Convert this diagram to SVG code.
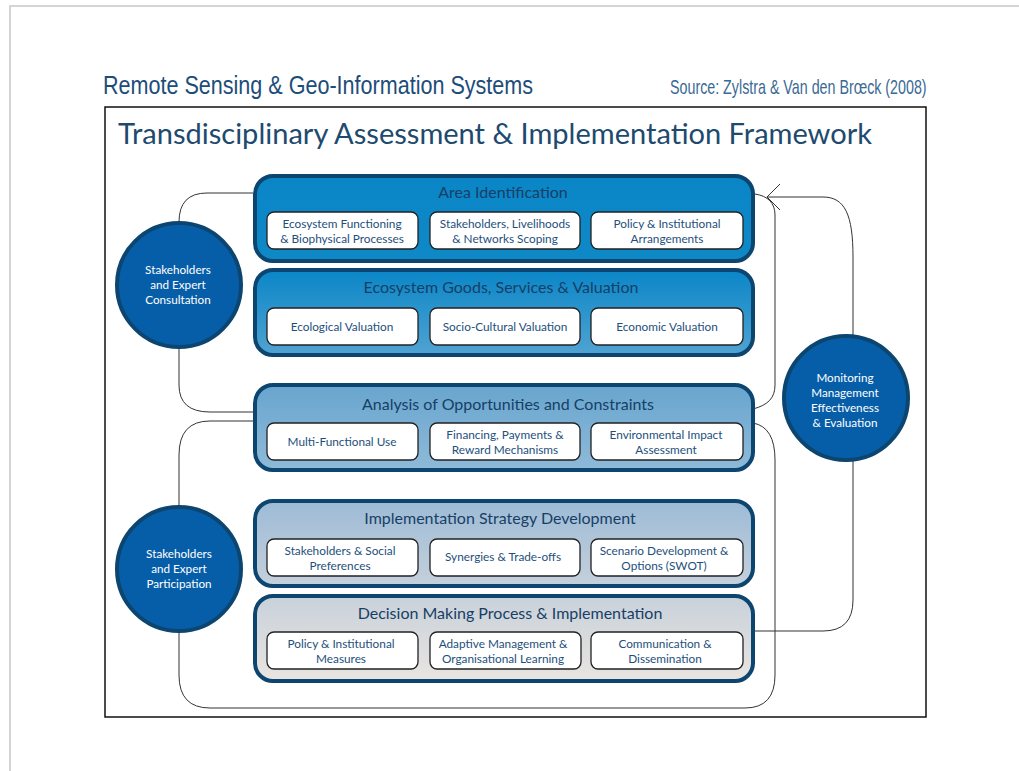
<svg xmlns="http://www.w3.org/2000/svg" width="1019" height="771" viewBox="0 0 1019 771">
<defs>
<linearGradient id="g1" x1="0" y1="0" x2="0" y2="1"><stop offset="0" stop-color="#0a86c7"/><stop offset="1" stop-color="#0f88c6"/></linearGradient>
<linearGradient id="g2" x1="0" y1="0" x2="0" y2="1"><stop offset="0" stop-color="#0a86c7"/><stop offset="1" stop-color="#50a3d2"/></linearGradient>
<linearGradient id="g3" x1="0" y1="0" x2="0" y2="1"><stop offset="0" stop-color="#68a5ce"/><stop offset="1" stop-color="#8fbad9"/></linearGradient>
<linearGradient id="g4" x1="0" y1="0" x2="0" y2="1"><stop offset="0" stop-color="#9dbbd6"/><stop offset="1" stop-color="#c5d0dc"/></linearGradient>
<linearGradient id="g5" x1="0" y1="0" x2="0" y2="1"><stop offset="0" stop-color="#c8d1da"/><stop offset="1" stop-color="#e9e5e1"/></linearGradient>
<marker id="arr" markerUnits="userSpaceOnUse" markerWidth="20" markerHeight="30" refX="14" refY="14" orient="auto">
<path d="M1,1 L14,14 L1,27" fill="none" stroke="#333" stroke-width="1"/>
</marker>
<style>
.panel{stroke:#0c4670;stroke-width:4}
.sub{fill:#fff;stroke:#222;stroke-width:1.3}
.pt{font-family:Lato,"Open Sans",sans-serif;font-size:16px;fill:#163f66;text-anchor:middle}
.st{font-family:Lato,"Open Sans",sans-serif;font-size:11.8px;fill:#1d4f7c;text-anchor:middle}
.circ{fill:#075ea8;stroke:#0c4670;stroke-width:4}
.ct{font-family:Lato,"Open Sans",sans-serif;font-size:11.7px;fill:#fff;text-anchor:middle}
.conn{fill:none;stroke:#333;stroke-width:1}
</style>
</defs>
<rect width="1019" height="771" fill="#fff"/>
<path d="M10,771 V6 H1019" fill="none" stroke="#c8c8c8" stroke-width="1.5"/>
<text x="103" y="94" font-family="'Liberation Sans',sans-serif" font-size="25" fill="#1c4d7a" textLength="430" lengthAdjust="spacingAndGlyphs">Remote Sensing &amp; Geo-Information Systems</text>
<text transform="translate(670,94) scale(0.68,1)" font-family="'Liberation Sans',sans-serif" font-size="21" fill="#3a6a94">Source: Zylstra &amp; Van den Brœck (2008)</text>
<rect x="105" y="107" width="821" height="610" fill="#fff" stroke="#111" stroke-width="1.5"/>
<text x="118" y="144" font-family="Lato,'Open Sans',sans-serif" font-size="28" fill="#1d4a6e" textLength="754" lengthAdjust="spacingAndGlyphs">Transdisciplinary Assessment &amp; Implementation Framework</text>

<g id="connectors">
<path class="conn" d="M253,193 H207 Q179,193 179,222"/>
<path class="conn" d="M179,348 V385 Q179,412 210,412 H253"/>
<path class="conn" d="M753,409 C768,405 775,398 775,385 V215 C775,203 768,196 755,194"/>
<path class="conn" d="M253,421 H210 Q179,421 179,455 V507"/>
<path class="conn" d="M179,632 V675 Q179,708 210,708 H745 Q775,708 775,675 V460 Q775,427 753,423"/>
<path class="conn" d="M753,631 H823 Q853,631 853,600 V461"/>
<path class="conn" d="M853,335 V257 C853,215 845,197 823,197 H767" marker-end="url(#arr)"/>
</g>

<g id="panel-area">
<rect class="panel" x="255" y="176" width="498" height="85" rx="18" fill="url(#g1)"/>
<text class="pt" x="503" y="198">Area Identification</text>
<rect class="sub" x="267" y="212" width="151" height="37" rx="7"/>
<text class="st" x="342" y="228">Ecosystem Functioning</text><text class="st" x="342" y="243">&amp; Biophysical Processes</text>
<rect class="sub" x="430" y="212" width="150" height="37" rx="7"/>
<text class="st" x="505" y="228">Stakeholders, Livelihoods</text><text class="st" x="505" y="243">&amp; Networks Scoping</text>
<rect class="sub" x="591" y="212" width="152" height="37" rx="7"/>
<text class="st" x="667" y="228">Policy &amp; Institutional</text><text class="st" x="667" y="243">Arrangements</text>
</g>

<g id="panel-goods">
<rect class="panel" x="255" y="270" width="498" height="85" rx="18" fill="url(#g2)"/>
<text class="pt" x="501" y="293">Ecosystem Goods, Services &amp; Valuation</text>
<rect class="sub" x="267" y="308" width="151" height="37" rx="7"/>
<text class="st" x="342" y="331">Ecological Valuation</text>
<rect class="sub" x="430" y="308" width="150" height="37" rx="7"/>
<text class="st" x="505" y="331">Socio-Cultural Valuation</text>
<rect class="sub" x="591" y="308" width="152" height="37" rx="7"/>
<text class="st" x="667" y="331">Economic Valuation</text>
</g>

<g id="panel-analysis">
<rect class="panel" x="255" y="385" width="498" height="85" rx="18" fill="url(#g3)"/>
<text class="pt" x="508" y="410">Analysis of Opportunities and Constraints</text>
<rect class="sub" x="267" y="423" width="151" height="37" rx="7"/>
<text class="st" x="342" y="446">Multi-Functional Use</text>
<rect class="sub" x="430" y="423" width="150" height="37" rx="7"/>
<text class="st" x="505" y="439">Financing, Payments &amp;</text><text class="st" x="505" y="454">Reward Mechanisms</text>
<rect class="sub" x="591" y="423" width="152" height="37" rx="7"/>
<text class="st" x="666" y="439">Environmental Impact</text><text class="st" x="666" y="454">Assessment</text>
</g>

<g id="panel-strategy">
<rect class="panel" x="255" y="501" width="498" height="85" rx="18" fill="url(#g4)"/>
<text class="pt" x="500" y="524">Implementation Strategy Development</text>
<rect class="sub" x="267" y="539" width="151" height="37" rx="7"/>
<text class="st" x="340" y="555">Stakeholders &amp; Social</text><text class="st" x="340" y="570">Preferences</text>
<rect class="sub" x="430" y="539" width="150" height="37" rx="7"/>
<text class="st" x="503" y="561">Synergies &amp; Trade-offs</text>
<rect class="sub" x="591" y="539" width="152" height="37" rx="7"/>
<text class="st" x="664" y="555">Scenario Development &amp;</text><text class="st" x="664" y="570">Options (SWOT)</text>
</g>

<g id="panel-decision">
<rect class="panel" x="255" y="596" width="498" height="85" rx="18" fill="url(#g5)"/>
<text class="pt" x="510" y="619">Decision Making Process &amp; Implementation</text>
<rect class="sub" x="267" y="632" width="151" height="37" rx="7"/>
<text class="st" x="341" y="648">Policy &amp; Institutional</text><text class="st" x="341" y="663">Measures</text>
<rect class="sub" x="430" y="632" width="151" height="37" rx="7"/>
<text class="st" x="503" y="648">Adaptive Management &amp;</text><text class="st" x="503" y="663">Organisational Learning</text>
<rect class="sub" x="591" y="632" width="152" height="37" rx="7"/>
<text class="st" x="665" y="648">Communication &amp;</text><text class="st" x="665" y="663">Dissemination</text>
</g>

<g id="circle-consultation">
<circle class="circ" cx="179" cy="285" r="62"/>
<text class="ct" x="178" y="274">Stakeholders</text><text class="ct" x="178" y="289">and Expert</text><text class="ct" x="178" y="304">Consultation</text>
</g>
<g id="circle-participation">
<circle class="circ" cx="179" cy="569" r="62"/>
<text class="ct" x="179" y="558">Stakeholders</text><text class="ct" x="179" y="573">and Expert</text><text class="ct" x="179" y="588">Participation</text>
</g>
<g id="circle-monitoring">
<circle class="circ" cx="846" cy="398" r="62"/>
<text class="ct" x="845" y="382">Monitoring</text><text class="ct" x="845" y="397">Management</text><text class="ct" x="845" y="412">Effectiveness</text><text class="ct" x="845" y="427">&amp; Evaluation</text>
</g>
</svg>
